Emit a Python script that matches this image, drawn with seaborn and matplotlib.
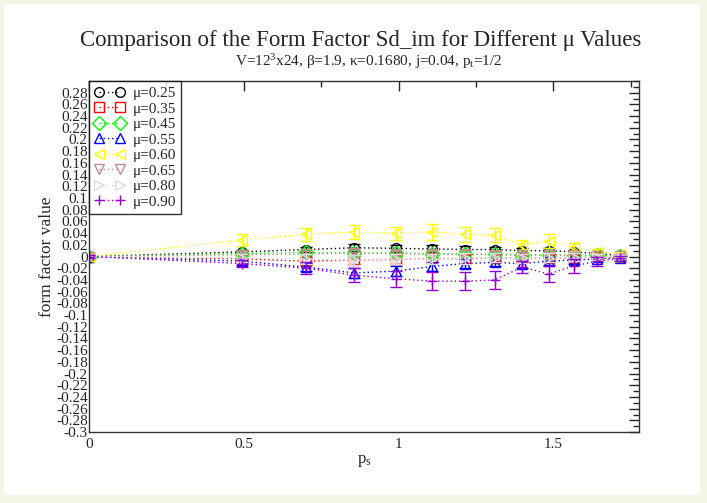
import numpy as np
import seaborn as sns
import matplotlib.pyplot as plt
from matplotlib.patches import Rectangle
from matplotlib.ticker import MultipleLocator

# momentum values p_s
p_s = [0, 0.495, 0.700, 0.857, 0.990, 1.107, 1.213, 1.310, 1.400, 1.485, 1.565, 1.642, 1.715]

mu_labels = ["\u03bc=0.25", "\u03bc=0.35", "\u03bc=0.45", "\u03bc=0.55",
             "\u03bc=0.60", "\u03bc=0.65", "\u03bc=0.80", "\u03bc=0.90"]

y_025 = [0, 0.008, 0.012, 0.015, 0.014, 0.013, 0.012, 0.012, 0.010, 0.010, 0.008, 0.005, 0.003]
e_025 = [0.003, 0.004, 0.005, 0.006, 0.006, 0.006, 0.006, 0.005, 0.005, 0.005, 0.004, 0.003, 0.002]
y_035 = [0, -0.004, -0.008, -0.006, -0.005, -0.003, -0.004, -0.002, -0.003, -0.002, -0.002, -0.001, -0.001]
e_035 = [0.003, 0.006, 0.007, 0.007, 0.007, 0.007, 0.007, 0.006, 0.006, 0.006, 0.005, 0.004, 0.003]
y_045 = [0, 0.005, 0.007, 0.006, 0.006, 0.005, 0.004, 0.004, 0.003, 0.003, 0.002, 0.002, 0.001]
e_045 = [0.003, 0.004, 0.004, 0.005, 0.005, 0.005, 0.005, 0.004, 0.004, 0.004, 0.004, 0.003, 0.002]
y_055 = [0, -0.008, -0.018, -0.028, -0.025, -0.017, -0.012, -0.010, -0.012, -0.008, -0.006, -0.004, -0.002]
e_055 = [0.003, 0.006, 0.007, 0.008, 0.008, 0.008, 0.008, 0.007, 0.007, 0.007, 0.006, 0.005, 0.003]
y_060 = [0, 0.028, 0.038, 0.042, 0.040, 0.042, 0.038, 0.036, 0.020, 0.027, 0.016, 0.008, 0.004]
e_060 = [0.003, 0.010, 0.011, 0.012, 0.011, 0.013, 0.013, 0.012, 0.008, 0.012, 0.007, 0.005, 0.004]
y_065 = [0, 0.003, 0.004, 0.006, 0.005, 0.004, 0.004, 0.003, 0.002, 0.002, 0.002, 0.001, 0.001]
e_065 = [0.003, 0.006, 0.006, 0.007, 0.007, 0.007, 0.007, 0.006, 0.006, 0.006, 0.005, 0.004, 0.003]
y_080 = [0, -0.002, -0.004, -0.006, -0.004, -0.004, -0.003, -0.002, -0.003, -0.002, -0.001, -0.001, 0.0]
e_080 = [0.003, 0.007, 0.008, 0.009, 0.009, 0.009, 0.009, 0.008, 0.008, 0.008, 0.007, 0.005, 0.003]
y_090 = [0, -0.012, -0.020, -0.032, -0.038, -0.042, -0.042, -0.040, -0.018, -0.030, -0.016, -0.008, -0.003]
e_090 = [0.003, 0.006, 0.010, 0.012, 0.014, 0.016, 0.016, 0.016, 0.010, 0.014, 0.012, 0.008, 0.004]

series_y = [y_025, y_035, y_045, y_055, y_060, y_065, y_080, y_090]
series_e = [e_025, e_035, e_045, e_055, e_060, e_065, e_080, e_090]

colors = ["#000000", "#ff0000", "#00ff00", "#0000ff", "#ffff00", "#bc8f8f", "#dcdcdc", "#9400d3"]
markers = ["o", "s", "D", "^", "<", "v", ">", "+"]

sns.set_theme(style="white")
plt.rcParams["font.family"] = ["Liberation Serif", "DejaVu Serif"]
plt.rcParams["mathtext.fontset"] = "custom"
plt.rcParams["mathtext.rm"] = "Liberation Serif"
plt.rcParams["mathtext.it"] = "Liberation Serif:italic"

fig = plt.figure(figsize=(7.07, 5.03), dpi=100)
fig.patch.set_facecolor("#f4f4e4")
# white page inside a thin beige frame
fig.patches.append(Rectangle((0.006, 0.016), 0.984, 0.976, transform=fig.transFigure,
                             facecolor="white", edgecolor="none", zorder=-1))
ax = fig.add_axes([0.126, 0.141, 0.778, 0.698])

for lab, y, e, c, m in zip(mu_labels, series_y, series_e, colors, markers):
    ax.errorbar(p_s, y, yerr=e, fmt="none", ecolor=c, elinewidth=1, capsize=4, capthick=1)
    sns.lineplot(x=p_s, y=y, ax=ax, color=c, marker=m, linestyle=(0, (1, 2)), linewidth=1,
                 markersize=7, mfc="none", mec=c, mew=1, errorbar=None, label=lab)

ax.set_xlim(0, 1.777)
ax.set_ylim(-0.3, 0.3)
yt = np.round(np.arange(-0.3, 0.281, 0.02), 2)
ax.set_yticks(yt)
ax.set_yticklabels([f"{v:g}" for v in yt])
ax.yaxis.set_minor_locator(MultipleLocator(0.01))
ax.xaxis.set_major_locator(MultipleLocator(0.5))
ax.xaxis.set_minor_locator(MultipleLocator(0.25))
ax.xaxis.set_major_formatter(plt.FuncFormatter(lambda v, p: f"{v:g}"))
ax.tick_params(which="both", direction="in", top=True, right=True, labelsize=11, pad=2)
ax.tick_params(axis="x", pad=4)
ax.tick_params(axis="y", pad=1)
ax.tick_params(which="major", length=7, width=1)
ax.tick_params(which="minor", length=4, width=1)
for s in ax.spines.values():
    s.set_color("#333333")
    s.set_linewidth(1)

ax.set_xlabel(r"p$_\mathrm{s}$", fontsize=12, labelpad=2)
ax.set_ylabel("form factor value", fontsize=12.5, labelpad=1)

fig.text(0.51, 0.909, "Comparison of the Form Factor Sd_im for Different \u03bc Values",
         ha="center", va="baseline", fontsize=16.5)
fig.text(0.522, 0.868, "V=12$^3$x24, \u03b2=1.9, \u03ba=0.1680, j=0.04, p$_\\mathrm{t}$=1/2",
         ha="center", va="baseline", fontsize=11)

leg = ax.legend(loc="upper left", numpoints=2, handlelength=2.0, fontsize=11,
                frameon=True, fancybox=False, borderaxespad=0, labelspacing=0.12,
                handletextpad=0.5, borderpad=0.35)
leg.get_frame().set_edgecolor("black")
leg.get_frame().set_linewidth(1)

fig.savefig("out.png", dpi=100)
